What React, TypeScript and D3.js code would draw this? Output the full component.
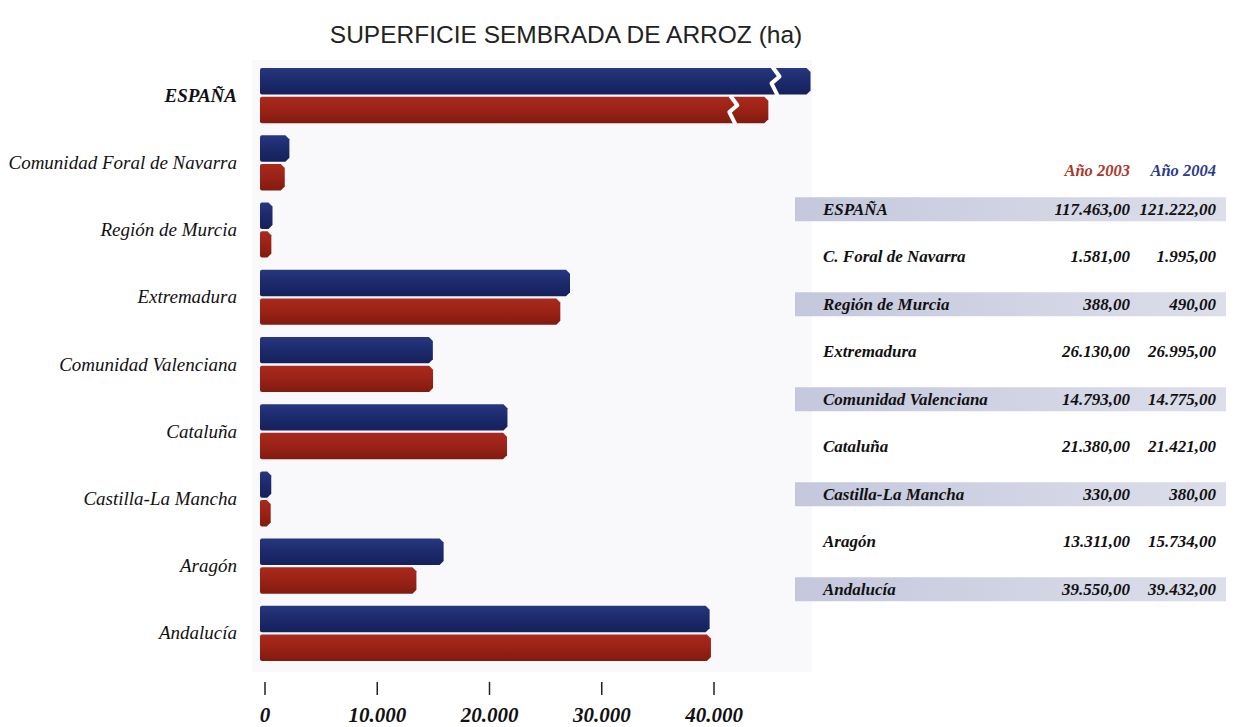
import React from 'react'
import * as d3 from 'd3'

// data
const regions = ['ESPAÑA', 'Comunidad Foral de Navarra', 'Región de Murcia', 'Extremadura', 'Comunidad Valenciana', 'Cataluña', 'Castilla-La Mancha', 'Aragón', 'Andalucía']
const tableNames = ['ESPAÑA', 'C. Foral de Navarra', 'Región de Murcia', 'Extremadura', 'Comunidad Valenciana', 'Cataluña', 'Castilla-La Mancha', 'Aragón', 'Andalucía']
const ha2003 = [117463, 1581, 388, 26130, 14793, 21380, 330, 13311, 39550]
const ha2004 = [121222, 1995, 490, 26995, 14775, 21421, 380, 15734, 39432]
const years = ['2004', '2003']
const xTicks = [0, 10000, 20000, 30000, 40000]

const W = 1239
const H = 727
const BLUE = '#1c2a6c'
const RED = '#9a2216'
const BREAK_AT = 100000   // values above this are drawn with an axis break
const BREAK_SHIFT = 72800

const fmt = (v: number) => {
  const s = Math.round(v).toString().replace(/\B(?=(\d{3})+(?!\d))/g, '.')
  return s + ',00'
}

export default function App() {
  const x = d3.scaleLinear().domain([0, 40000]).range([265, 714])
  const y = d3.scaleBand<string>().domain(regions).range([62, 667]).paddingInner(0.18).paddingOuter(0.09)
  const ySub = d3.scaleBand<string>().domain(years).range([0, y.bandwidth()]).paddingInner(0.08)
  const yTab = d3.scaleBand<string>().domain(regions).range([185.5, 613])

  const serif = '"Liberation Serif", "DejaVu Serif", serif'

  const barPath = (x0: number, x1: number, top: number, h: number) => {
    const c = 4
    return `M${x0 + 2},${top} H${x1 - c} L${x1},${top + c} V${top + h - c} L${x1 - c},${top + h} H${x0 + 2} Q${x0},${top + h} ${x0},${top + h - 2} V${top + 2} Q${x0},${top} ${x0 + 2},${top} Z`
  }

  const bars: React.ReactNode[] = []
  regions.forEach((r, i) => {
    years.forEach(yr => {
      const v = yr === '2004' ? ha2004[i] : ha2003[i]
      const broken = v > BREAK_AT
      const xEnd = x(broken ? v - BREAK_SHIFT : v) + 2
      const top = (y(r) ?? 0) + (ySub(yr) ?? 0)
      const h = ySub.bandwidth()
      const fill = yr === '2004' ? 'url(#gBlue)' : 'url(#gRed)'
      bars.push(<path key={r + yr} d={barPath(x(0) - 5, xEnd, top, h)} fill={fill} />)
      if (broken) {
        const bx = xEnd - 36
        const pts = [
          [bx - 2, top - 1], [bx + 5, top + h * 0.32], [bx - 3, top + h * 0.58], [bx + 3, top + h + 1],
        ]
        bars.push(<polyline key={r + yr + 'b'} points={pts.map(p => p.join(',')).join(' ')} fill="none" stroke="#fff" strokeWidth={4} strokeLinejoin="round" />)
      }
    })
  })

  return (
    <svg width={W} height={H} style={{ position: 'absolute', left: 0, top: 0, background: '#fff' }}>
      <defs>
        <linearGradient id="gBlue" x1="0" y1="0" x2="0" y2="1">
          <stop offset="0" stopColor="#27377f" />
          <stop offset="0.5" stopColor={BLUE} />
          <stop offset="1" stopColor="#15215a" />
        </linearGradient>
        <linearGradient id="gRed" x1="0" y1="0" x2="0" y2="1">
          <stop offset="0" stopColor="#a92a1c" />
          <stop offset="0.5" stopColor={RED} />
          <stop offset="1" stopColor="#821a10" />
        </linearGradient>
        <linearGradient id="gRow" x1="0" y1="0" x2="1" y2="0">
          <stop offset="0" stopColor="#c5c8dd" />
          <stop offset="1" stopColor="#dcdeea" />
        </linearGradient>
      </defs>

      <text x={566} y={43} textAnchor="middle" fontFamily='"Liberation Sans", Arial, sans-serif' fontSize={24.5} fill="#222">
        SUPERFICIE SEMBRADA DE ARROZ (ha)
      </text>

      {/* chart panel */}
      <rect x={252} y={60} width={560} height={612} fill="#f9f9fb" />

      {bars}

      {regions.map(r => (
        <text key={r} x={237} y={(y(r) ?? 0) + y.bandwidth() / 2 + 6} textAnchor="end" fontFamily={serif}
          fontStyle="italic" fontWeight={r === 'ESPAÑA' ? 'bold' : 'normal'} fontSize={19} fill="#111">
          {r}
        </text>
      ))}

      {xTicks.map(t => (
        <g key={t}>
          <line x1={x(t)} x2={x(t)} y1={682} y2={695} stroke="#222" strokeWidth={1.5} />
          <text x={x(t)} y={722} textAnchor="middle" fontFamily={serif} fontStyle="italic" fontWeight="bold" fontSize={21} fill="#111">
            {t === 0 ? '0' : d3.format(',')(t).replace(/,/g, '.')}
          </text>
        </g>
      ))}

      {/* table */}
      <text x={1130} y={176} textAnchor="end" fontFamily={serif} fontStyle="italic" fontWeight="bold" fontSize={16.5} fill="#a8392c">Año 2003</text>
      <text x={1216} y={176} textAnchor="end" fontFamily={serif} fontStyle="italic" fontWeight="bold" fontSize={16.5} fill="#2c3a8c">Año 2004</text>
      {regions.map((r, i) => {
        const cy = (yTab(r) ?? 0) + yTab.bandwidth() / 2
        return (
          <g key={r}>
            {i % 2 === 0 && <rect x={795} y={cy - 12} width={431} height={24} fill="url(#gRow)" />}
            <text x={823} y={cy + 5.5} fontFamily={serif} fontStyle="italic" fontWeight="bold" fontSize={17} fill="#111">{tableNames[i]}</text>
            <text x={1130} y={cy + 5.5} textAnchor="end" fontFamily={serif} fontStyle="italic" fontWeight="bold" fontSize={17} fill="#111">{fmt(ha2003[i])}</text>
            <text x={1216} y={cy + 5.5} textAnchor="end" fontFamily={serif} fontStyle="italic" fontWeight="bold" fontSize={17} fill="#111">{fmt(ha2004[i])}</text>
          </g>
        )
      })}
    </svg>
  )
}
